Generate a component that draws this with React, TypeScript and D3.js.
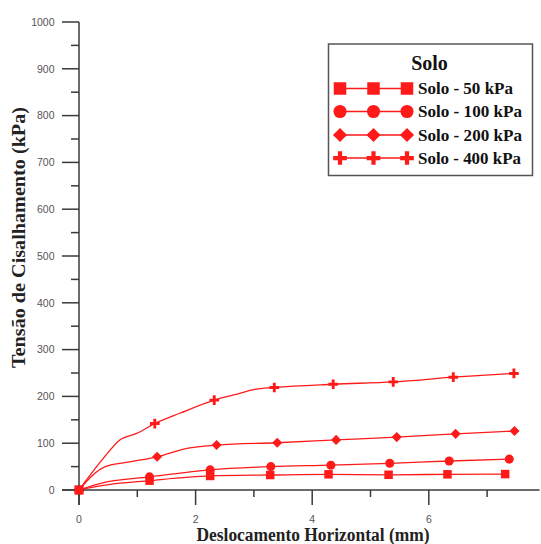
import React from "react";
import * as d3 from "d3";

// ---- data ----
const seriesNames = ["Solo - 50 kPa", "Solo - 100 kPa", "Solo - 200 kPa", "Solo - 400 kPa"];
const seriesShapes = ["square", "circle", "diamond", "plus"];

const x50 = [0, 0.42, 1.21, 2.25, 3.28, 4.28, 5.31, 6.32, 7.31];
const y50 = [0, 10, 20, 30, 32, 33.5, 32.5, 33.5, 34];
const m50 = [1, 0, 1, 1, 1, 1, 1, 1, 1];

const x100 = [0, 0.42, 1.21, 2.25, 3.29, 4.32, 5.33, 6.35, 7.38];
const y100 = [0, 16, 28, 43, 50, 53, 57, 62, 66];
const m100 = [1, 0, 1, 1, 1, 1, 1, 1, 1];

const x200 = [0, 0.45, 0.87, 1.34, 1.85, 2.36, 3.4, 4.41, 5.45, 6.46, 7.47];
const y200 = [0, 50, 60, 71, 89, 96, 101, 107, 113, 120, 126];
const m200 = [1, 0, 0, 1, 0, 1, 1, 1, 1, 1, 1];

const x400 = [0, 0.42, 0.7, 0.99, 1.3, 1.73, 2.32, 2.65, 3.02, 3.35, 4.36, 5.39, 6.42, 7.46];
const y400 = [0, 68, 107, 121, 142, 164, 192, 203, 215, 219, 226, 231, 241, 249];
const m400 = [1, 0, 0, 0, 1, 0, 1, 0, 0, 1, 1, 1, 1, 1];

const xTicks = [0, 2, 4, 6];
const xMinorTicks = [1, 3, 5, 7];
const yTicks = [0, 100, 200, 300, 400, 500, 600, 700, 800, 900, 1000];
const yMinorTicks = [50, 150, 250, 350, 450, 550, 650, 750, 850, 950];

const xTitle = "Deslocamento Horizontal (mm)";
const yTitle = "Tensão de Cisalhamento (kPa)";
const legendTitle = "Solo";

const RED = "#ff1a1a";

function Marker({ shape, x, y, s }: { shape: string; x: number; y: number; s: number }) {
  if (shape === "square")
    return <rect x={x - s / 2} y={y - s / 2} width={s} height={s} fill={RED} />;
  if (shape === "circle") return <circle cx={x} cy={y} r={s / 2 + 0.3} fill={RED} />;
  if (shape === "diamond") {
    const h = s / 2 + 0.8;
    return <path d={`M${x},${y - h}L${x + h},${y}L${x},${y + h}L${x - h},${y}Z`} fill={RED} />;
  }
  const h = s / 2 + 0.6;
  const t = s * 0.17;
  return (
    <path
      d={`M${x - t},${y - h}H${x + t}V${y - t}H${x + h}V${y + t}H${x + t}V${y + h}H${x - t}V${y + t}H${x - h}V${y - t}H${x - t}Z`}
      fill={RED}
    />
  );
}

export default function App() {
  const W = 541,
    H = 544;
  const x = d3.scaleLinear().domain([0, 7.9]).range([79, 79 + 7.9 * 58.3]);
  const y = d3.scaleLinear().domain([0, 1000]).range([490, 22]);

  const series = [
    { xs: x50, ys: y50, ms: m50, shape: seriesShapes[0] },
    { xs: x100, ys: y100, ms: m100, shape: seriesShapes[1] },
    { xs: x200, ys: y200, ms: m200, shape: seriesShapes[2] },
    { xs: x400, ys: y400, ms: m400, shape: seriesShapes[3] },
  ];

  const line = d3
    .line<[number, number]>()
    .x((d) => x(d[0]))
    .y((d) => y(d[1]))
    .curve(d3.curveMonotoneX);

  const axisColor = "#3a3a3a";
  const tickText = "#555";
  const serif = "'Liberation Serif', 'Times New Roman', serif";
  const sans = "'Liberation Sans', Arial, sans-serif";

  const legRows = [88.5, 111.5, 135, 158];
  const legMarkX = [340, 373.5, 407];
  const legWidths = [95, 104, 104, 103];

  return (
    <svg width={W} height={H} style={{ position: "absolute", left: 0, top: 0 }}>
      <rect width={W} height={H} fill="#fff" />
      {[...series].reverse().map((s, i) => {
        const pts = s.xs.map((v, j) => [v, s.ys[j]] as [number, number]);
        return (
          <g key={i}>
            <path d={line(pts) || ""} fill="none" stroke={RED} strokeWidth={1.3} />
            {pts.map((p, j) =>
              s.ms[j] ? <Marker key={j} shape={s.shape} x={x(p[0])} y={y(p[1])} s={8.5} /> : null
            )}
          </g>
        );
      })}

      {/* axes */}
      <line x1={x(0)} x2={x(0)} y1={y(1000)} y2={y(0) + 15} stroke={axisColor} strokeWidth={1.5} />
      <line x1={x(0) - 17} x2={x(7.9)} y1={y(0)} y2={y(0)} stroke={axisColor} strokeWidth={1.5} />
      {yTicks.map((t) => (
        <g key={"y" + t}>
          <line x1={x(0) - 17} x2={x(0)} y1={y(t)} y2={y(t)} stroke={axisColor} strokeWidth={1.5} />
          <text x={54.5} y={y(t) + 3.7} textAnchor="end" fontFamily={sans} fontSize={10.5} fill={tickText}>
            {t}
          </text>
        </g>
      ))}
      {yMinorTicks.map((t) => (
        <line key={"ym" + t} x1={x(0) - 8} x2={x(0)} y1={y(t)} y2={y(t)} stroke={axisColor} strokeWidth={1.5} />
      ))}
      {xTicks.map((t) => (
        <g key={"x" + t}>
          <line x1={x(t)} x2={x(t)} y1={y(0)} y2={y(0) + 15} stroke={axisColor} strokeWidth={1.5} />
          <text x={x(t)} y={522.5} textAnchor="middle" fontFamily={sans} fontSize={10.5} fill={tickText}>
            {t}
          </text>
        </g>
      ))}
      {xMinorTicks.map((t) => (
        <line key={"xm" + t} x1={x(t)} x2={x(t)} y1={y(0)} y2={y(0) + 7} stroke={axisColor} strokeWidth={1.5} />
      ))}

      <Marker shape="square" x={x(0)} y={y(0)} s={9} />

      {/* axis titles */}
      <text
        x={313}
        y={541}
        textAnchor="middle"
        fontFamily={serif}
        fontWeight="bold"
        fontSize={18}
        fill="#222"
        textLength={233}
        lengthAdjust="spacingAndGlyphs"
      >
        {xTitle}
      </text>
      <text
        transform="translate(25,237.5) rotate(-90)"
        textAnchor="middle"
        fontFamily={serif}
        fontWeight="bold"
        fontSize={18}
        fill="#222"
        textLength={261}
        lengthAdjust="spacingAndGlyphs"
      >
        {yTitle}
      </text>

      {/* legend */}
      <rect x={328.5} y={44} width={204} height={131.5} fill="#fff" stroke="#555" strokeWidth={1.5} />
      <text x={429.5} y={70} textAnchor="middle" fontFamily={serif} fontWeight="bold" fontSize={20} fill="#111">
        {legendTitle}
      </text>
      {seriesNames.map((name, i) => (
        <g key={name}>
          <line x1={legMarkX[0]} x2={legMarkX[2]} y1={legRows[i]} y2={legRows[i]} stroke={RED} strokeWidth={1.3} />
          {legMarkX.map((mx, k) => (
            <Marker key={k} shape={seriesShapes[i]} x={mx} y={legRows[i]} s={12.5} />
          ))}
          <text
            x={418}
            y={legRows[i] + 5.8}
            fontFamily={serif}
            fontWeight="bold"
            fontSize={17}
            fill="#111"
            textLength={legWidths[i]}
            lengthAdjust="spacingAndGlyphs"
          >
            {name}
          </text>
        </g>
      ))}
    </svg>
  );
}
